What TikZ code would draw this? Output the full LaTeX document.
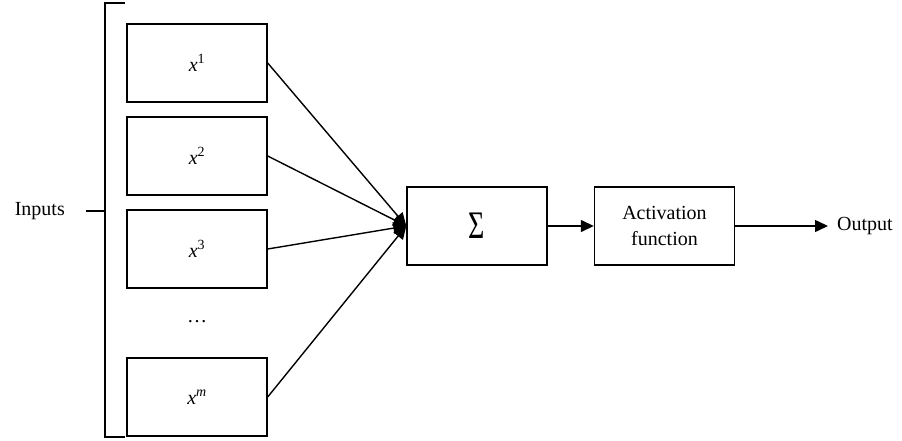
\documentclass[tikz,border=0pt]{standalone}
\usepackage{fontspec}
\setmainfont{Liberation Serif}
\usepackage{graphicx}
\usetikzlibrary{arrows.meta}
\begin{document}
\begin{tikzpicture}[x=1pt,y=-1pt,
  every node/.style={font=\fontsize{20}{26}\selectfont},
  box/.style={draw,line width=1.4pt,minimum width=140pt,minimum height=78pt,inner sep=0pt,align=center},
  conn/.style={line width=1.4pt},
  arr/.style={conn,-{Triangle[length=13pt,width=12pt]}}]
\useasboundingbox (0,0) rectangle (902,441);
% input boxes
\node[box] (x1) at (197,63) {{\itshape x}\textsuperscript{1}};
\node[box] (x2) at (197,156) {{\itshape x}\textsuperscript{2}};
\node[box] (x3) at (197,249) {{\itshape x}\textsuperscript{3}};
\node (dots) at (197,322) {\textellipsis};
\node[box] (xm) at (197,397) {{\itshape x}\textsuperscript{\itshape m}};
% summation and activation
\node[box] (sum) at (477,226) {\scalebox{1.4}[1.95]{Σ}};
\node[box] (act) at (664.5,226) {Activation\\function};
\node[anchor=west,inner xsep=9pt,inner ysep=0pt] (out) at (828,226) {Output};
% bracket grouping the inputs
\node[anchor=east,inner sep=0pt] (inputs) at (65,211) {Inputs};
\coordinate (btop) at (105,3);
\coordinate (btopend) at (125,3);
\coordinate (bbot) at (105,437);
\coordinate (bbotend) at (125,437);
\coordinate (bmid) at (105,211);
\coordinate (tick) at (86,211);
\draw[conn] (btopend) -- (btop) -- (bbot) -- (bbotend);
\draw[conn] (tick) -- (bmid);
% connections
\draw[arr] (x1.east) -- (sum.west);
\draw[arr] (x2.east) -- (sum.west);
\draw[arr] (x3.east) -- (sum.west);
\draw[arr] (xm.east) -- (sum.west);
\draw[arr] (sum.east) -- (act.west);
\draw[arr] (act.east) -- (out.west);
\end{tikzpicture}
\end{document}
